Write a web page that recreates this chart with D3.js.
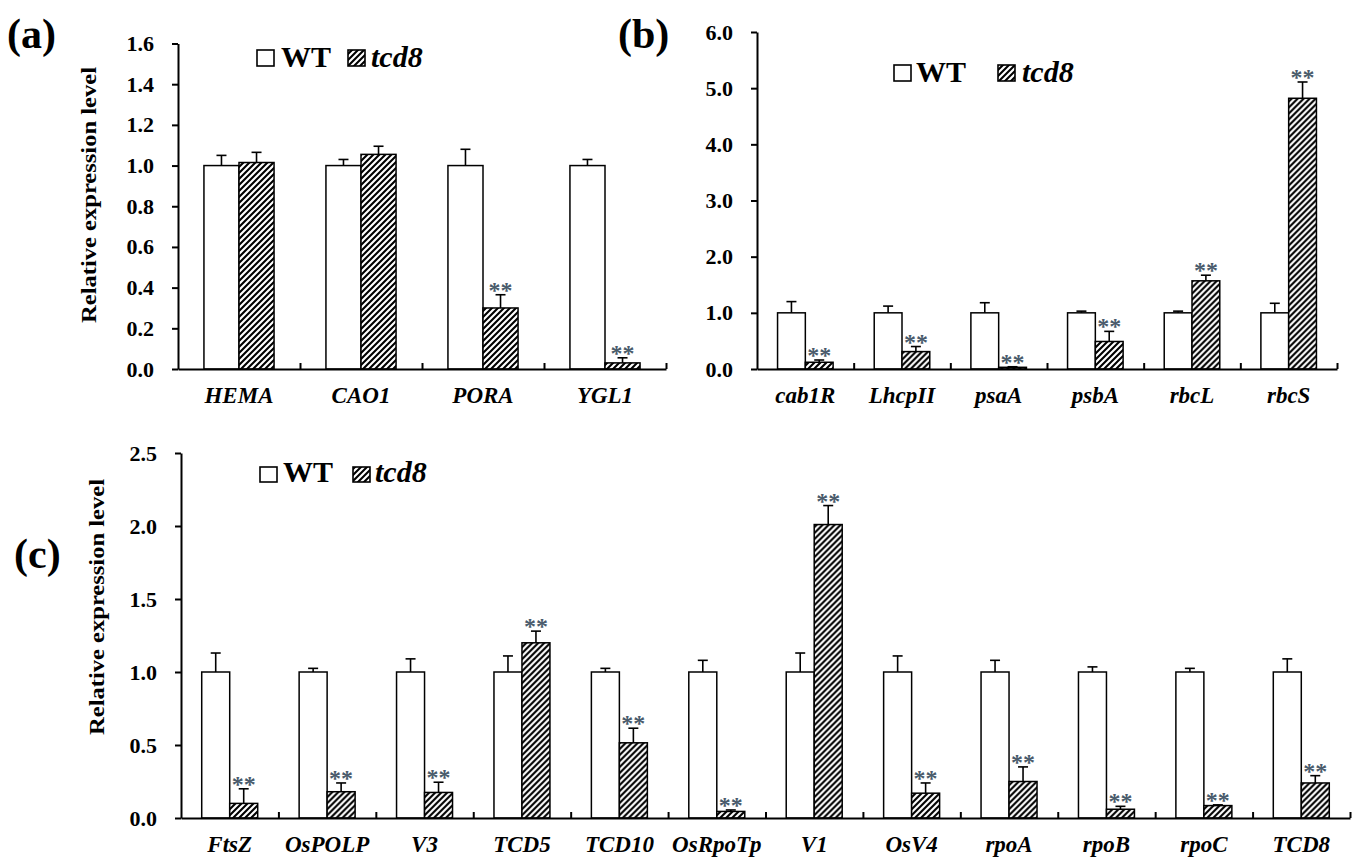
<!DOCTYPE html>
<html>
<head>
<meta charset="utf-8">
<script src="https://cdn.jsdelivr.net/npm/d3@7"></script>
<style>
  body { margin: 0; background: #fff; }
  svg { display: block; font-family: "Liberation Serif", "Times New Roman", serif; }
  .axis path, .axis line { stroke: #000; stroke-width: 2; }
  .axis text { font-family: "Liberation Serif", serif; font-weight: bold; fill: #000; }
</style>
</head>
<body>
<script>
// ---------------------------------------------------------------
// data (relative expression, WT = 1)
// ---------------------------------------------------------------
var series = ["WT", "tcd8"];

// (a) chlorophyll biosynthesis genes
var genesA   = ["HEMA", "CAO1", "PORA", "YGL1"];
var wtA      = [1.0, 1.0, 1.0, 1.0];
var wtErrA   = [0.05, 0.03, 0.08, 0.03];
var tcdA     = [1.015, 1.055, 0.30, 0.03];
var tcdErrA  = [0.05, 0.04, 0.065, 0.025];
var starsA   = [false, false, true, true];
var ticksA   = [0, 0.2, 0.4, 0.6, 0.8, 1.0, 1.2, 1.4, 1.6];

// (b) photosynthesis genes
var genesB   = ["cab1R", "LhcpII", "psaA", "psbA", "rbcL", "rbcS"];
var wtB      = [1.0, 1.0, 1.0, 1.0, 1.0, 1.0];
var wtErrB   = [0.2, 0.12, 0.18, 0.03, 0.03, 0.17];
var tcdB     = [0.12, 0.31, 0.03, 0.49, 1.57, 4.82];
var tcdErrB  = [0.04, 0.09, 0.01, 0.18, 0.10, 0.29];
var starsB   = [true, true, true, true, true, true];
var ticksB   = [0, 1, 2, 3, 4, 5, 6];

// (c) chloroplast development / transcription genes
var genesC   = ["FtsZ", "OsPOLP", "V3", "TCD5", "TCD10", "OsRpoTp",
                "V1", "OsV4", "rpoA", "rpoB", "rpoC", "TCD8"];
var wtC      = [1, 1, 1, 1, 1, 1, 1, 1, 1, 1, 1, 1];
var wtErrC   = [0.13, 0.025, 0.09, 0.11, 0.025, 0.08, 0.13, 0.11, 0.08, 0.035, 0.025, 0.09];
var tcdC     = [0.10, 0.18, 0.175, 1.20, 0.515, 0.045, 2.01, 0.17, 0.25, 0.06, 0.085, 0.24];
var tcdErrC  = [0.10, 0.06, 0.07, 0.08, 0.10, 0.01, 0.13, 0.07, 0.10, 0.02, 0.005, 0.05];
var starsC   = [true, true, true, true, true, true, true, true, true, true, true, true];
var ticksC   = [0, 0.5, 1.0, 1.5, 2.0, 2.5];

// ---------------------------------------------------------------
// svg + hatch pattern for the mutant bars
// ---------------------------------------------------------------
var svg = d3.select("body")
    .append("svg")
    .attr("width", 1355)
    .attr("height", 860);

var pat = svg.append("defs")
    .append("pattern")
    .attr("id", "hatch")
    .attr("patternUnits", "userSpaceOnUse")
    .attr("width", 6)
    .attr("height", 6);
pat.append("rect").attr("width", 6).attr("height", 6).attr("fill", "#fff");
pat.append("path")
    .attr("d", "M-1,1 L1,-1 M0,6 L6,0 M5,7 L7,5")
    .attr("stroke", "#000")
    .attr("stroke-width", 2.1);

// ---------------------------------------------------------------
// one panel = grouped bars with error bars, axes, legend
// ---------------------------------------------------------------
function drawPanel(p) {
    var g = svg.append("g");

    var x = d3.scaleBand().domain(p.genes).range([p.left, p.right]);
    var xSub = d3.scaleBand().domain(series).range([0, x.bandwidth()]).paddingOuter(0.74);
    var y = d3.scaleLinear().domain([0, p.max]).range([p.bottom, p.top]);
    var bound = d3.scaleLinear().domain([0, p.genes.length]).range([p.left, p.right]);

    var rows = p.genes.map(function(gene, i) {
        return {
            gene: gene,
            star: p.stars[i],
            values: [
                {key: "WT", v: p.wt[i], e: p.wtErr[i]},
                {key: "tcd8", v: p.tcd[i], e: p.tcdErr[i]}
            ]
        };
    });

    var grp = g.selectAll(".gene")
        .data(rows)
        .enter()
        .append("g")
        .attr("class", "gene")
        .attr("transform", function(d) { return "translate(" + x(d.gene) + ",0)"; });

    grp.selectAll("rect")
        .data(function(d) { return d.values; })
        .enter()
        .append("rect")
        .attr("x", function(d) { return xSub(d.key); })
        .attr("y", function(d) { return y(d.v); })
        .attr("width", xSub.bandwidth())
        .attr("height", function(d) { return y(0) - y(d.v); })
        .attr("fill", function(d) { return d.key == "WT" ? "#fff" : "url(#hatch)"; })
        .attr("stroke", "#000")
        .attr("stroke-width", 1.5);

    // error bars (upper half only)
    var err = grp.selectAll(".err")
        .data(function(d) { return d.values.filter(function(v) { return v.e > 0; }); })
        .enter()
        .append("g")
        .attr("class", "err")
        .attr("stroke", "#000")
        .attr("stroke-width", 1.6);
    err.append("line")
        .attr("x1", function(d) { return xSub(d.key) + xSub.bandwidth() / 2; })
        .attr("x2", function(d) { return xSub(d.key) + xSub.bandwidth() / 2; })
        .attr("y1", function(d) { return y(d.v); })
        .attr("y2", function(d) { return y(d.v + d.e); });
    err.append("line")
        .attr("x1", function(d) { return xSub(d.key) + xSub.bandwidth() / 2 - 5; })
        .attr("x2", function(d) { return xSub(d.key) + xSub.bandwidth() / 2 + 5; })
        .attr("y1", function(d) { return y(d.v + d.e); })
        .attr("y2", function(d) { return y(d.v + d.e); });

    // significance stars
    grp.filter(function(d) { return d.star; })
        .append("text")
        .attr("x", function(d) { return xSub("tcd8") + xSub.bandwidth() / 2; })
        .attr("y", function(d) { return y(d.values[1].v + d.values[1].e) + 3; })
        .attr("text-anchor", "middle")
        .attr("fill", "#4a5b6c")
        .style("font-size", "24px")
        .style("font-weight", "bold")
        .text("**");

    // y axis
    g.append("g")
        .attr("class", "axis")
        .attr("transform", "translate(" + p.left + ",0)")
        .call(d3.axisLeft(y).tickValues(p.ticks).tickFormat(d3.format(".1f"))
            .tickSize(6).tickSizeOuter(0).tickPadding(18))
        .selectAll("text")
        .style("font-size", "22px");

    // x axis line with inward ticks at category boundaries
    g.append("g")
        .attr("class", "axis")
        .attr("transform", "translate(0," + p.bottom + ")")
        .call(d3.axisTop(bound).tickValues(d3.range(1, p.genes.length + 1))
            .tickSize(6).tickSizeOuter(0).tickFormat(""));

    // gene names
    var xl = g.append("g")
        .attr("class", "axis")
        .attr("transform", "translate(0," + p.bottom + ")")
        .call(d3.axisBottom(x).tickSize(0).tickPadding(18));
    xl.select(".domain").remove();
    xl.selectAll("text")
        .style("font-size", "23px")
        .style("font-style", "italic");

    if (p.title) {
        g.append("text")
            .attr("transform", "translate(" + p.title.x + "," + p.title.y + ") rotate(-90)")
            .attr("text-anchor", "middle")
            .attr("textLength", 256)
            .attr("lengthAdjust", "spacingAndGlyphs")
            .style("font-size", "22px")
            .style("font-weight", "bold")
            .text("Relative expression level");
    }

    // panel letter
    g.append("text")
        .attr("x", p.label.x)
        .attr("y", p.label.y)
        .style("font-size", "42px")
        .style("font-weight", "bold")
        .text(p.label.text);

    // legend
    var L = p.legend;
    g.append("rect")
        .attr("x", L.box1).attr("y", L.boxY)
        .attr("width", 17).attr("height", L.boxH)
        .attr("fill", "#fff").attr("stroke", "#000").attr("stroke-width", 1.6);
    g.append("text")
        .attr("x", L.text1).attr("y", L.base)
        .style("font-size", "30px").style("font-weight", "bold")
        .text(series[0]);
    g.append("rect")
        .attr("x", L.box2).attr("y", L.boxY)
        .attr("width", 17).attr("height", L.boxH)
        .attr("fill", "url(#hatch)").attr("stroke", "#000").attr("stroke-width", 1.6);
    g.append("text")
        .attr("x", L.text2).attr("y", L.base)
        .style("font-size", "30px").style("font-weight", "bold").style("font-style", "italic")
        .text(series[1]);
}

drawPanel({
    genes: genesA, wt: wtA, wtErr: wtErrA, tcd: tcdA, tcdErr: tcdErrA, stars: starsA,
    ticks: ticksA, max: 1.6,
    left: 178, right: 666, top: 43.5, bottom: 369,
    title: {x: 96, y: 195},
    label: {text: "(a)", x: 7, y: 48},
    legend: {box1: 257, text1: 281, box2: 348, text2: 371, boxY: 50, boxH: 16, base: 67}
});

drawPanel({
    genes: genesB, wt: wtB, wtErr: wtErrB, tcd: tcdB, tcdErr: tcdErrB, stars: starsB,
    ticks: ticksB, max: 6,
    left: 757, right: 1337, top: 32, bottom: 369,
    title: null,
    label: {text: "(b)", x: 618, y: 48},
    legend: {box1: 894, text1: 916, box2: 998, text2: 1022, boxY: 65, boxH: 16, base: 82}
});

drawPanel({
    genes: genesC, wt: wtC, wtErr: wtErrC, tcd: tcdC, tcdErr: tcdErrC, stars: starsC,
    ticks: ticksC, max: 2.5,
    left: 181, right: 1350, top: 453, bottom: 818,
    title: {x: 104, y: 607},
    label: {text: "(c)", x: 14, y: 568},
    legend: {box1: 260, text1: 283, box2: 353, text2: 375, boxY: 467, boxH: 15, base: 482}
});
</script>
</body>
</html>
